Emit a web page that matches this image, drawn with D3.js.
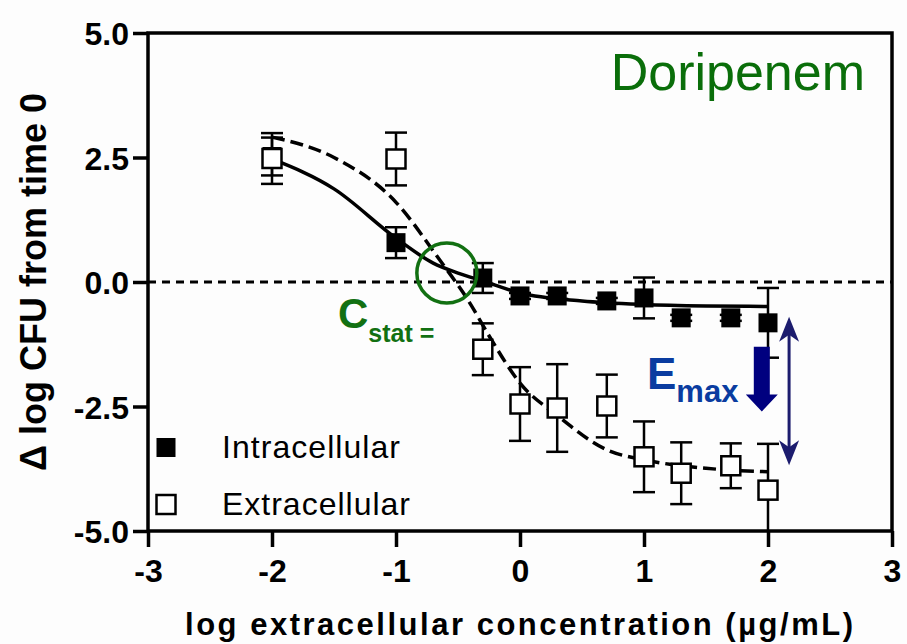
<!DOCTYPE html>
<html>
<head>
<meta charset="utf-8">
<script src="https://cdn.jsdelivr.net/npm/d3@7"></script>
<style>
  body { margin: 0; background: #fdfdfd; }
  svg { display: block; font-family: "Liberation Sans", Arial, sans-serif; }
</style>
</head>
<body>
<div id="chart"></div>
<script>
// log extracellular concentration (ug/mL)
const concLog = [-2, -1, -0.3, 0, 0.3, 0.7, 1, 1.3, 1.7, 2];

// intracellular: mean and SD (delta log CFU)
const intraMean = [2.52, 0.79, 0.08, -0.28, -0.28, -0.38, -0.32, -0.72, -0.72, -0.82];
const intraSD   = [0.38, 0.31, 0.30, 0.06, 0.06, 0.06, 0.41, 0.06, 0.06, 0.70];

// extracellular: mean and SD
const extraMean = [2.48, 2.47, -1.35, -2.45, -2.53, -2.49, -3.51, -3.84, -3.69, -4.18];
const extraSD   = [0.51, 0.53, 0.52, 0.74, 0.88, 0.63, 0.71, 0.62, 0.45, 0.93];

// fitted curves
const intraFitX = [-2, -1.5, -1, -0.7, -0.5, -0.3, 0, 0.5, 1, 1.5, 2];
const intraFitY = [2.47, 1.87, 0.88, 0.38, 0.18, 0.02, -0.22, -0.38, -0.45, -0.48, -0.49];
const extraFitX = [-2, -1.5, -1, -0.65, -0.42, -0.24, 0, 0.3, 0.7, 1, 1.5, 2];
const extraFitY = [2.91, 2.5, 1.6, 0.45, -0.36, -1.12, -2.03, -2.68, -3.37, -3.57, -3.74, -3.81];

const xTicks = [-3, -2, -1, 0, 1, 2, 3];
const yTicks = [5.0, 2.5, 0.0, -2.5, -5.0];

// annotation anchors in data units
const cstatPoint = [-0.59, 0.18];
const emaxArrow = [1.95, -1.3, -2.6];      // x, top, tip
const rangeArrow = [2.17, -0.7, -3.68];    // x, top, bottom

const width = 907, height = 644;
const margin = { top: 33, right: 15, bottom: 113, left: 148 };
const innerW = width - margin.left - margin.right;
const innerH = height - margin.top - margin.bottom;

const svg = d3.select("#chart").append("svg")
    .attr("width", width)
    .attr("height", height);

const g = svg.append("g")
    .attr("transform", `translate(${margin.left},${margin.top})`);

const x = d3.scaleLinear().domain([-3, 3]).range([0, innerW]);
const y = d3.scaleLinear().domain([-5, 5]).range([innerH, 0]);

g.append("defs").append("clipPath").attr("id", "plotClip")
  .append("rect").attr("width", innerW).attr("height", innerH);

// zero line
g.append("line")
    .attr("x1", 0).attr("x2", innerW)
    .attr("y1", y(0)).attr("y2", y(0))
    .attr("stroke", "#000")
    .attr("stroke-width", 3)
    .attr("stroke-dasharray", "8,6");

// axes (plain hyphen for negatives, like the original)
const xAxis = g.append("g")
    .attr("transform", `translate(0,${innerH})`)
    .call(d3.axisBottom(x).tickValues(xTicks).tickSize(16).tickPadding(12).tickFormat(d => String(d)));
const yAxis = g.append("g")
    .call(d3.axisLeft(y).tickValues(yTicks).tickSize(15).tickPadding(4).tickFormat(d => d.toFixed(1)));

[xAxis, yAxis].forEach(a => {
  a.select(".domain").remove();
  a.selectAll("line").attr("stroke", "#000").attr("stroke-width", 3.5);
  a.selectAll("text")
    .attr("fill", "#000")
    .style("font-size", "32px")
    .style("font-weight", "bold")
    .style("font-family", "'Liberation Sans', Arial, sans-serif");
});
xAxis.selectAll("text").attr("dy", "0.71em");
yAxis.selectAll("text").attr("dy", "0.36em");

// frame
g.append("rect")
    .attr("width", innerW).attr("height", innerH)
    .attr("fill", "none")
    .attr("stroke", "#000")
    .attr("stroke-width", 3.5);

// fitted curves
const line = d3.line()
    .x(d => x(d[0]))
    .y(d => y(d[1]))
    .curve(d3.curveMonotoneX);

g.append("path")
    .datum(intraFitX.map((v, i) => [v, intraFitY[i]]))
    .attr("d", line)
    .attr("fill", "none")
    .attr("stroke", "#000")
    .attr("stroke-width", 3.5);

g.append("path")
    .datum(extraFitX.map((v, i) => [v, extraFitY[i]]))
    .attr("d", line)
    .attr("fill", "none")
    .attr("stroke", "#000")
    .attr("stroke-width", 3.5)
    .attr("stroke-dasharray", "13,6");

const intra = concLog.map((c, i) => ({ c, m: intraMean[i], sd: intraSD[i] }));
const extra = concLog.map((c, i) => ({ c, m: extraMean[i], sd: extraSD[i] }));

function errorBars(data) {
  const eb = g.append("g")
      .attr("clip-path", "url(#plotClip)")
      .attr("stroke", "#000")
      .attr("stroke-width", 2.5);
  data.forEach(d => {
    eb.append("line")
        .attr("x1", x(d.c)).attr("x2", x(d.c))
        .attr("y1", y(d.m + d.sd)).attr("y2", y(d.m - d.sd));
    [d.m + d.sd, d.m - d.sd].forEach(v => {
      eb.append("line")
          .attr("x1", x(d.c) - 11).attr("x2", x(d.c) + 11)
          .attr("y1", y(v)).attr("y2", y(v));
    });
  });
}

errorBars(intra);
errorBars(extra);

const sq = 19;
g.append("g").selectAll("rect")
    .data(intra)
    .enter()
    .append("rect")
    .attr("x", d => x(d.c) - sq / 2)
    .attr("y", d => y(d.m) - sq / 2)
    .attr("width", sq).attr("height", sq)
    .attr("fill", "#000");

g.append("g").selectAll("rect")
    .data(extra)
    .enter()
    .append("rect")
    .attr("x", d => x(d.c) - sq / 2)
    .attr("y", d => y(d.m) - sq / 2)
    .attr("width", sq).attr("height", sq)
    .attr("fill", "#fff")
    .attr("stroke", "#000")
    .attr("stroke-width", 2.5);

// legend
const legend = g.append("g");
legend.append("rect")
    .attr("x", 18 - sq / 2).attr("y", 414.5 - sq / 2)
    .attr("width", sq).attr("height", sq)
    .attr("fill", "#000");
legend.append("rect")
    .attr("x", 18 - sq / 2).attr("y", 471.5 - sq / 2)
    .attr("width", sq).attr("height", sq)
    .attr("fill", "#fff").attr("stroke", "#000").attr("stroke-width", 2.5);
legend.append("text")
    .attr("x", 74).attr("y", 425)
    .attr("textLength", 178).attr("lengthAdjust", "spacing")
    .style("font-size", "32px")
    .text("Intracellular");
legend.append("text")
    .attr("x", 74).attr("y", 482)
    .attr("textLength", 188).attr("lengthAdjust", "spacing")
    .style("font-size", "32px")
    .text("Extracellular");

// Cstat circle and label
const green = "#127012";
g.append("circle")
    .attr("cx", x(cstatPoint[0])).attr("cy", y(cstatPoint[1]))
    .attr("r", 30)
    .attr("fill", "none")
    .attr("stroke", green)
    .attr("stroke-width", 3.5);

const cst = g.append("text")
    .attr("x", 190).attr("y", 295)
    .attr("fill", green)
    .style("font-weight", "bold");
cst.append("tspan").style("font-size", "42px").text("C");
cst.append("tspan").attr("dy", 14).style("font-size", "25px").text("stat =");

// Emax arrows
const navy = "#00007f";
const ax = x(emaxArrow[0]), aTop = y(emaxArrow[1]), aTip = y(emaxArrow[2]);
g.append("path")
    .attr("d", `M${ax - 8},${aTop} L${ax + 8},${aTop} L${ax + 8},${aTip - 17} L${ax + 16},${aTip - 17}
                L${ax},${aTip} L${ax - 16},${aTip - 17} L${ax - 8},${aTip - 17} Z`)
    .attr("fill", navy);

const rx = x(rangeArrow[0]), rTop = y(rangeArrow[1]), rBot = y(rangeArrow[2]);
const dark = "#1c1c6e";
g.append("line")
    .attr("x1", rx).attr("x2", rx)
    .attr("y1", rTop + 10).attr("y2", rBot - 10)
    .attr("stroke", dark).attr("stroke-width", 3);
g.append("path")
    .attr("d", `M${rx},${rTop} L${rx + 10},${rTop + 25} L${rx},${rTop + 18} L${rx - 10},${rTop + 25} Z`)
    .attr("fill", dark);
g.append("path")
    .attr("d", `M${rx},${rBot} L${rx + 10},${rBot - 25} L${rx},${rBot - 18} L${rx - 10},${rBot - 25} Z`)
    .attr("fill", dark);

const em = g.append("text")
    .attr("x", 499).attr("y", 356)
    .attr("fill", "#0a3ca0")
    .style("font-weight", "bold");
em.append("tspan").style("font-size", "44px").text("E");
em.append("tspan").attr("dy", 13).style("font-size", "31px").text("max");

// drug name
g.append("text")
    .attr("x", 717).attr("y", 57)
    .attr("text-anchor", "end")
    .attr("fill", "#0a6e0a")
    .style("font-size", "52px")
    .text("Doripenem");

// axis titles
svg.append("text")
    .attr("x", 185).attr("y", 635)
    .attr("textLength", 668).attr("lengthAdjust", "spacing")
    .style("font-size", "31px")
    .style("font-weight", "bold")
    .text("log extracellular concentration (µg/mL)");

svg.append("text")
    .attr("transform", "translate(46,282) rotate(-90)")
    .attr("text-anchor", "middle")
    .style("font-size", "36px")
    .style("font-weight", "bold")
    .text("Δ log CFU from time 0");
</script>
</body>
</html>
